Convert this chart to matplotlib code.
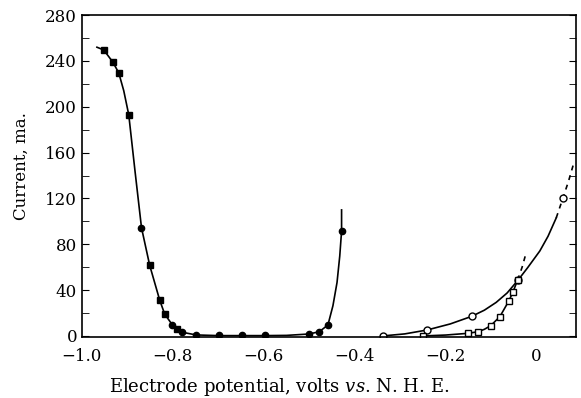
import matplotlib
matplotlib.use("agg")
import matplotlib.pyplot as plt
from matplotlib.ticker import MultipleLocator, FixedLocator

plt.rcParams['font.family'] = ['DejaVu Serif']
plt.rcParams['mathtext.fontset'] = 'dejavuserif'

# cathodic curve (filled markers)
cath_line_x = [-0.967, -0.952, -0.932, -0.919, -0.908, -0.897, -0.883, -0.869, -0.851, -0.829,
               -0.818, -0.801, -0.791, -0.779, -0.749, -0.70, -0.65, -0.60, -0.55, -0.501,
               -0.478, -0.459, -0.448, -0.439, -0.433, -0.429, -0.429]
cath_line_y = [252, 249.6, 239, 229.6, 214, 193, 143, 94.5, 61.7, 31.3,
               19.1, 9.6, 6.1, 3.2, 0.9, 0.3, 0.3, 0.3, 0.5, 1.7,
               3.7, 9.6, 26.4, 46.7, 69.8, 91.6, 110]
cath_sq_x = [-0.952, -0.932, -0.919, -0.897, -0.851, -0.829, -0.818, -0.791]
cath_sq_y = [249.6, 239, 229.6, 193, 61.7, 31.3, 19.1, 6.1]
cath_dot_x = [-0.869, -0.801, -0.779, -0.749, -0.698, -0.648, -0.598, -0.501, -0.478, -0.459, -0.429]
cath_dot_y = [94.5, 9.6, 3.2, 0.9, 0.5, 0.9, 0.9, 1.7, 3.7, 9.6, 91.6]

# anodic curve, open circles
circ_line_x = [-0.339, -0.29, -0.241, -0.19, -0.143, -0.115, -0.089, -0.065, -0.041, -0.02,
               0.007, 0.025, 0.043]
circ_line_y = [0, 1.8, 5.2, 10.5, 17.1, 22.5, 29.3, 37.5, 48.7, 59.5,
               74.2, 87, 103]
circ_dash_x = [0.043, 0.058, 0.070, 0.081]
circ_dash_y = [103, 120.6, 135, 150]
circ_pts_x = [-0.339, -0.241, -0.143, -0.041, 0.058]
circ_pts_y = [0, 5.2, 17.1, 48.7, 120.6]

# anodic curve, open squares
sq_line_x = [-0.25, -0.20, -0.151, -0.129, -0.115, -0.101, -0.081, -0.061, -0.052, -0.042]
sq_line_y = [0, 0.8, 2.3, 3.7, 5.8, 9.0, 16.8, 30.7, 38.5, 48.7]
sq_dash_x = [-0.042, -0.032, -0.023]
sq_dash_y = [48.7, 60, 72.8]
sq_pts_x = [-0.250, -0.151, -0.129, -0.101, -0.081, -0.061, -0.052, -0.042]
sq_pts_y = [0, 2.3, 3.7, 9.0, 16.8, 30.7, 38.5, 48.7]

x_ticks = [-1.0, -0.8, -0.6, -0.4, -0.2, 0.0]
x_labels = ['\u22121.0', '\u22120.8', '\u22120.6', '\u22120.4', '\u22120.2', '0']

fig = plt.figure(figsize=(5.81, 3.98), dpi=100)
ax = fig.add_axes([0.141, 0.153, 0.850, 0.809])

lw = 1.2
ax.plot(cath_line_x, cath_line_y, color='black', lw=lw)
ax.plot(cath_sq_x, cath_sq_y, 's', color='black', ms=4)
ax.plot(cath_dot_x, cath_dot_y, 'o', color='black', ms=4.5)

ax.plot(circ_line_x, circ_line_y, color='black', lw=lw)
ax.plot(circ_dash_x, circ_dash_y, color='black', lw=lw, ls=(0, (3, 3)))
ax.plot(circ_pts_x, circ_pts_y, 'o', mfc='white', mec='black', mew=1, ms=5)

ax.plot(sq_line_x, sq_line_y, color='black', lw=lw)
ax.plot(sq_dash_x, sq_dash_y, color='black', lw=lw, ls=(0, (3, 3)))
ax.plot(sq_pts_x, sq_pts_y, 's', mfc='white', mec='black', mew=1, ms=4)

ax.set_xlim(-1.0, 0.086)
ax.set_ylim(-1, 280)

ax.set_xticks(x_ticks)
ax.set_xticklabels(x_labels)
ax.xaxis.set_minor_locator(FixedLocator([-0.8, -0.4, 0.0]))
ax.tick_params(axis='x', which='major', length=0, labelsize=12, pad=8)
ax.tick_params(axis='x', which='minor', direction='in', length=7, top=True, bottom=True)

ax.yaxis.set_major_locator(MultipleLocator(40))
ax.yaxis.set_minor_locator(MultipleLocator(20))
ax.tick_params(axis='y', which='both', direction='in', length=5, left=True, right=True,
               labelsize=12)

for s in ax.spines.values():
    s.set_linewidth(1.2)

ax.set_xlabel('Electrode potential, volts $\\it{vs}$. N. H. E.', fontsize=13)
ax.xaxis.set_label_coords(0.40, -0.12)
ax.set_ylabel('Current, ma.', fontsize=12)
ax.yaxis.set_label_coords(-0.105, 0.53)

fig.savefig('out.png', dpi=100)
plt.close(fig)
